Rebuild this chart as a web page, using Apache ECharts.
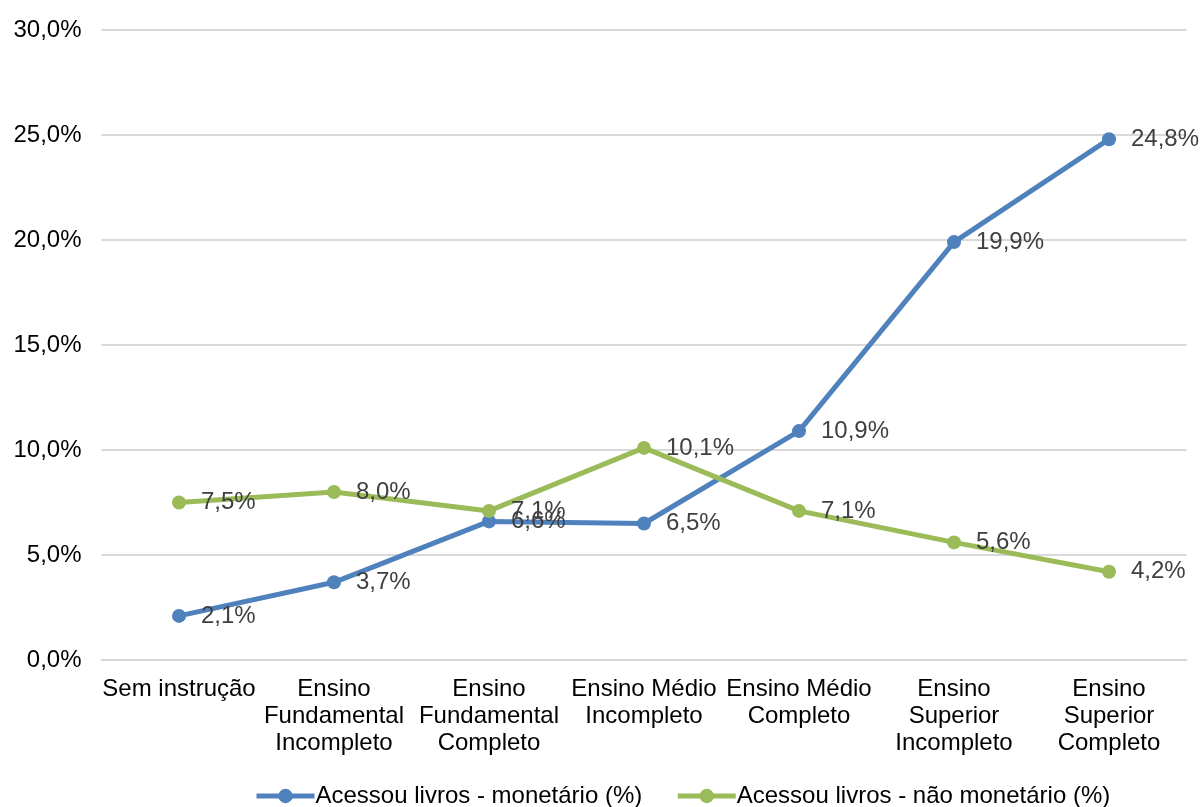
<!DOCTYPE html>
<html>
<head>
<meta charset="utf-8">
<script src="https://cdn.jsdelivr.net/npm/echarts@6/dist/echarts.min.js"></script>
<style>
  html, body { margin: 0; padding: 0; background: #fff; }
  #chart { width: 1202px; height: 807px; }
</style>
</head>
<body>
<div id="chart"></div>
<script>
// Education levels (line breaks as they wrap under the axis)
const categories = [
  'Sem instrução',
  'Ensino\nFundamental\nIncompleto',
  'Ensino\nFundamental\nCompleto',
  'Ensino Médio\nIncompleto',
  'Ensino Médio\nCompleto',
  'Ensino\nSuperior\nIncompleto',
  'Ensino\nSuperior\nCompleto'
];
const seriesNames = ['Acessou livros - monetário (%)', 'Acessou livros - não monetário (%)'];
const monetario = [2.1, 3.7, 6.6, 6.5, 10.9, 19.9, 24.8];
const naoMonetario = [7.5, 8.0, 7.1, 10.1, 7.1, 5.6, 4.2];

const fmt = v => v.toFixed(1).replace('.', ',') + '%';
const FONT = '"Liberation Sans", Arial, sans-serif';

function lineSeries(name, data, color) {
  return {
    name: name,
    type: 'line',
    data: data,
    symbol: 'circle',
    symbolSize: 14,
    lineStyle: { width: 5, color: color },
    itemStyle: { color: color },
    label: {
      show: true,
      position: 'right',
      distance: 15,
      color: '#404040',
      fontFamily: FONT,
      fontSize: 24,
      formatter: p => fmt(p.value)
    }
  };
}

const chart = echarts.init(document.getElementById('chart'), null, { renderer: 'canvas' });
chart.setOption({
  animation: false,
  textStyle: { fontFamily: FONT },
  grid: { left: 101.5, right: 15.5, top: 30, bottom: 147, containLabel: false },
  legend: {
    top: 779,
    left: 249,
    itemWidth: 58,
    itemHeight: 18,
    itemGap: 33,
    lineStyle: { width: 5 },
    textStyle: { fontFamily: FONT, fontSize: 24, color: '#000', padding: [0, 0, 0, -4] },
    data: seriesNames
  },
  xAxis: {
    type: 'category',
    data: categories,
    boundaryGap: true,
    axisLine: { show: true, lineStyle: { color: '#d9d9d9', width: 2 } },
    axisTick: { show: false },
    axisLabel: {
      interval: 0,
      margin: 16,
      color: '#000',
      fontFamily: FONT,
      fontSize: 24,
      lineHeight: 27
    }
  },
  yAxis: {
    type: 'value',
    min: 0,
    max: 30,
    interval: 5,
    axisLine: { show: false },
    axisTick: { show: false },
    splitLine: { lineStyle: { color: '#d9d9d9', width: 2 } },
    axisLabel: {
      margin: 20,
      color: '#000',
      fontFamily: FONT,
      fontSize: 24,
      formatter: v => fmt(v)
    }
  },
  series: [
    lineSeries(seriesNames[0], monetario, '#4f81bd'),
    lineSeries(seriesNames[1], naoMonetario, '#9bbb59')
  ]
});
</script>
</body>
</html>
